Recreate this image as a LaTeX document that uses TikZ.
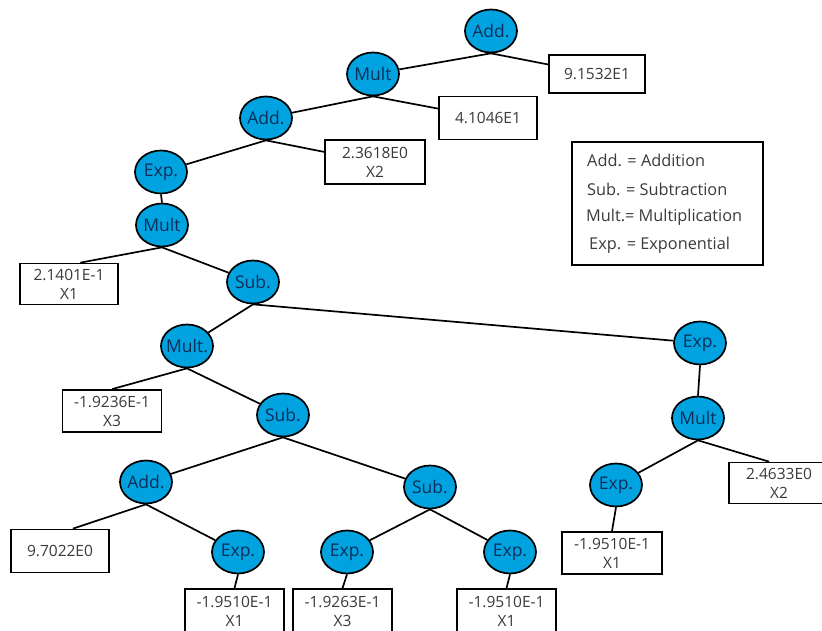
\documentclass[tikz,border=0pt]{standalone}
\usepackage{fontspec}
\setmainfont{Open Sans}
\usetikzlibrary{shapes.geometric}
\definecolor{opfill}{HTML}{00A3E0}
\definecolor{optext}{HTML}{0E2D5A}
\definecolor{valtext}{HTML}{3A3A3A}
\begin{document}
\begin{tikzpicture}[x=1pt,y=-1pt,
  op/.style={ellipse,draw=black,line width=1.7pt,fill=opfill,
    minimum width=52pt,minimum height=43pt,inner sep=0pt,
    text=optext,font=\fontsize{17.5}{19}\selectfont},
  val/.style={rectangle,draw=black,line width=1.7pt,fill=white,
    minimum width=98pt,minimum height=42pt,inner sep=0pt,align=center,
    text=valtext,font=\fontsize{15.5}{19}\selectfont},
  key/.style={anchor=west,inner sep=0pt,text=valtext,font=\fontsize{16.3}{18}\selectfont},
  link/.style={line width=1.7pt,draw=black}]
\useasboundingbox (0,0) rectangle (822,631);

% operator nodes (label set a little below the centre)
\newcommand\oplabel[1]{\makebox[0pt]{\raisebox{-2.5pt}{#1}}}
\node[op] (add1)  at (491,31)  {\oplabel{Add.}};
\node[op] (mult1) at (373,74)  {\oplabel{Mult}};
\node[op] (add2)  at (266,118) {\oplabel{Add.}};
\node[op] (exp1)  at (161,172) {\oplabel{Exp.}};
\node[op] (mult2) at (162,225) {\oplabel{Mult}};
\node[op] (sub1)  at (253,282) {\oplabel{Sub.}};
\node[op] (mult3) at (187,346) {\oplabel{Mult.}};
\node[op] (sub2)  at (283,415) {\oplabel{Sub.}};
\node[op] (add3)  at (146,482) {\oplabel{Add.}};
\node[op] (sub3)  at (430,487) {\oplabel{Sub.}};
\node[op] (exp2)  at (238,552) {\oplabel{Exp.}};
\node[op] (exp3)  at (347,552) {\oplabel{Exp.}};
\node[op] (exp4)  at (510,552) {\oplabel{Exp.}};
\node[op] (exp5)  at (700,343) {\oplabel{Exp.}};
\node[op] (mult4) at (698,418) {\oplabel{Mult}};
\node[op] (exp6)  at (616,485) {\oplabel{Exp.}};

% value nodes
\node[val,minimum width=96pt,minimum height=38pt] (v1) at (597,74) {9.1532E1};
\node[val,minimum height=43pt] (v2) at (488,118) {4.1046E1};
\node[val,minimum width=100pt,minimum height=44pt] (v3) at (375,162) {2.3618E0\\X2};
\node[val,minimum height=41pt] (v4) at (69,284) {2.1401E-1\\X1};
\node[val,minimum width=99pt] (v5) at (112,411) {-1.9236E-1\\X3};
\node[val,minimum height=43pt] (v6) at (60,551) {9.7022E0};
\node[val,minimum width=99pt,minimum height=44pt] (v7) at (234.5,611) {-1.9510E-1\\X1};
\node[val,minimum width=99pt,minimum height=44pt] (v8) at (342.5,611) {-1.9263E-1\\X3};
\node[val,minimum width=99pt,minimum height=44pt] (v9) at (506.5,611) {-1.9510E-1\\X1};
\node[val,minimum width=100pt,minimum height=41pt] (v10) at (779,483) {2.4633E0\\X2};
\node[val,minimum width=100pt] (v11) at (612,553) {-1.9510E-1\\X1};

% legend
\node[rectangle,draw=black,line width=1.2pt,minimum width=191pt,minimum height=123pt,
  inner sep=0pt] (legend) at (667.5,203.5) {};
\node[key] (l1) at (587,160) {Add. = Addition};
\node[key] (l2) at (587,189) {Sub. = Subtraction};
\node[key] (l3) at (586,217) {Mult.= Multiplication};
\node[key] (l4) at (589,245) {Exp. = Exponential};

% connectors
\draw[link] (add1.south) -- (mult1);
\draw[link] (add1.south) -- (v1);
\draw[link] (mult1.south) -- (add2);
\draw[link] (mult1.south) -- (v2);
\draw[link] (add2.south) -- (exp1);
\draw[link] (add2.south) -- (v3);
\draw[link] (exp1.south) -- (mult2.north);
\draw[link] (mult2.south) -- (v4.62);
\draw[link] (mult2.south) -- (sub1);
\draw[link] (sub1.south) -- (mult3);
\draw[link] (sub1.south) -- (exp5);
\draw[link] (mult3.south) -- (v5.north);
\draw[link] (mult3.south) -- (sub2);
\draw[link] (sub2.south) -- (add3);
\draw[link] (sub2.south) -- (sub3);
\draw[link] (add3.south) -- (v6.60);
\draw[link] (add3.south) -- (exp2);
\draw[link] (sub3.south) -- (exp3);
\draw[link] (sub3.south) -- (exp4);
\draw[link] (exp2.south) -- (v7.north);
\draw[link] (exp3.south) -- (v8.north);
\draw[link] (exp4.south) -- (v9.north);
\draw[link] (exp5.south) -- (mult4.north);
\draw[link] (mult4.south) -- (exp6);
\draw[link] (mult4.south) -- (v10.115);
\draw[link] (exp6.south) -- (v11.north);
\end{tikzpicture}
\end{document}
